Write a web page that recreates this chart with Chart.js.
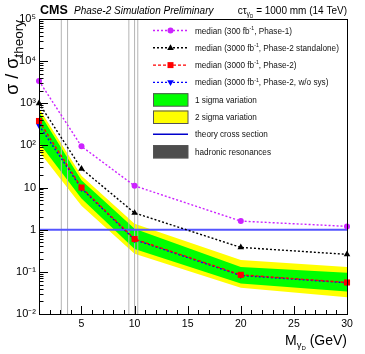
<!DOCTYPE html>
<html lang="en">
<head>
<meta charset="UTF-8" />
<title>Dark photon sensitivity</title>
<script src="https://cdn.jsdelivr.net/npm/chart.js"></script>
<style>
  body { margin: 0; background: #fff; }
</style>
</head>
<body>
<canvas id="limitChart" width="365" height="354"></canvas>
<script>
// values
const masses = [1, 5, 10, 20, 30];
const medianPhase1 = [3400, 95, 11, 1.6, 1.2];
const medianStandalone = [1000, 28, 2.5, 0.38, 0.26];
const medianPhase2 = [380, 10, 0.6, 0.085, 0.056];
const medianNoSys = [300, 9.5, 0.58, 0.082, 0.055];
const oneSigmaUp = [610, 15, 1.05, 0.13, 0.095];
const oneSigmaDown = [115, 5.5, 0.35, 0.053, 0.034];
const twoSigmaUp = [760, 19, 1.38, 0.19, 0.13];
const twoSigmaDown = [72, 3.7, 0.27, 0.042, 0.025];
const theoryMass = [1, 30];
const theoryRatio = [1, 1];
const resonanceMasses = [3.1, 3.69, 9.46, 10.0, 10.3];

const xTicks = [5, 10, 15, 20, 25, 30];
const yTicks = [0.01, 0.1, 1, 10, 100, 1000, 10000, 100000];
const yTickLabels = ['10\u207B\u00B2', '10\u207B\u00B9', '1', '10', '10\u00B2', '10\u00B3', '10\u2074', '10\u2075'];

const FONT = "'Liberation Sans', Arial, sans-serif";
const MAGENTA = '#cc22ff';
const BLUE_THEORY = '#5555ff';

function pts(xs, ys) {
  return xs.map((x, i) => ({ x: x, y: ys[i] }));
}

// draws text made of pieces with their own size / vertical shift
function drawRich(ctx, x, y, parts, align) {
  let w = 0;
  parts.forEach(p => {
    ctx.font = (p[3] || '') + ' ' + p[1] + 'px ' + FONT;
    w += ctx.measureText(p[0]).width;
  });
  let cx = align === 'right' ? x - w : x;
  parts.forEach(p => {
    ctx.font = (p[3] || '') + ' ' + p[1] + 'px ' + FONT;
    ctx.fillText(p[0], cx, y + p[2]);
    cx += ctx.measureText(p[0]).width;
  });
}

function marker(ctx, style, x, y, color) {
  ctx.fillStyle = color;
  ctx.beginPath();
  if (style === 'circle') {
    ctx.arc(x, y, 3, 0, Math.PI * 2);
  } else if (style === 'rect') {
    ctx.rect(x - 3, y - 3, 6, 6);
  } else if (style === 'up') {
    ctx.moveTo(x, y - 3.5); ctx.lineTo(x + 3.3, y + 2.2); ctx.lineTo(x - 3.3, y + 2.2);
  } else {
    ctx.moveTo(x, y + 3.5); ctx.lineTo(x + 3.3, y - 2.2); ctx.lineTo(x - 3.3, y - 2.2);
  }
  ctx.closePath();
  ctx.fill();
}

const legendItems = [
  { kind: 'line', color: MAGENTA, dash: [2, 2], pt: 'circle', text: ['median (300 fb', '-1', ', Phase-1)'] },
  { kind: 'line', color: '#000', dash: [2, 2], pt: 'up', text: ['median (3000 fb', '-1', ', Phase-2 standalone)'] },
  { kind: 'line', color: '#ff0000', dash: [3, 2], pt: 'rect', text: ['median (3000 fb', '-1', ', Phase-2)'] },
  { kind: 'line', color: '#0000ff', dash: [2, 2], pt: 'down', text: ['median (3000 fb', '-1', ', Phase-2, w/o sys)'] },
  { kind: 'box', color: '#00ff00', text: ['1 sigma variation'] },
  { kind: 'box', color: '#ffff00', text: ['2 sigma variation'] },
  { kind: 'theory', color: '#0000cc', text: ['theory cross section'] },
  { kind: 'box', color: '#4d4d4d', text: ['hadronic resonances'] }
];

const cmsDecor = {
  id: 'cmsDecor',
  afterDraw(chart) {
    const ctx = chart.ctx;
    const a = chart.chartArea;
    const xs = chart.scales.x, ys = chart.scales.y;
    ctx.save();
    ctx.strokeStyle = '#000';
    ctx.lineWidth = 1;
    ctx.setLineDash([]);

    // inward ticks
    ctx.beginPath();
    for (let m = 1; m <= 30; m++) {
      const px = Math.round(xs.getPixelForValue(m)) + 0.5;
      const len = m % 5 === 0 ? 8 : 4;
      ctx.moveTo(px, a.bottom); ctx.lineTo(px, a.bottom - len);
    }
    for (let d = -2; d <= 4; d++) {
      for (let k = 1; k <= 9; k++) {
        const py = Math.round(ys.getPixelForValue(k * Math.pow(10, d))) + 0.5;
        const len = k === 1 ? 9 : 4.5;
        ctx.moveTo(a.left, py); ctx.lineTo(a.left + len, py);
      }
    }
    const topY = Math.round(ys.getPixelForValue(1e5)) + 0.5;
    ctx.moveTo(a.left, topY); ctx.lineTo(a.left + 9, topY);
    ctx.stroke();

    // frame
    ctx.strokeRect(Math.round(a.left) + 0.5, Math.round(a.top) + 0.5,
      Math.round(a.right - a.left), Math.round(a.bottom - a.top));

    // legend
    ctx.textBaseline = 'alphabetic';
    legendItems.forEach((it, i) => {
      const y = 30.5 + i * 17.3;
      if (it.kind === 'line') {
        ctx.strokeStyle = it.color;
        ctx.lineWidth = 1.4;
        ctx.setLineDash(it.dash);
        ctx.beginPath(); ctx.moveTo(153, y); ctx.lineTo(188, y); ctx.stroke();
        ctx.setLineDash([]);
        marker(ctx, it.pt, 170.5, y, it.color);
      } else if (it.kind === 'box') {
        ctx.fillStyle = it.color;
        ctx.fillRect(153, y - 6.5, 35, 13);
        ctx.strokeStyle = '#555';
        ctx.lineWidth = 1;
        ctx.strokeRect(153.5, y - 6, 34.5, 12.5);
      } else {
        ctx.strokeStyle = it.color;
        ctx.lineWidth = 1.5;
        ctx.beginPath(); ctx.moveTo(153, y); ctx.lineTo(188, y); ctx.stroke();
      }
      ctx.fillStyle = '#111';
      if (it.text.length === 3) {
        drawRich(ctx, 195, y + 3, [[it.text[0], 8.2, 0], [it.text[1], 5.2, -3.8], [it.text[2], 8.2, 0]]);
      } else {
        drawRich(ctx, 195, y + 3, [[it.text[0], 8.2, 0]]);
      }
    });

    // header
    ctx.fillStyle = '#000';
    drawRich(ctx, 40, 13.5, [['CMS', 12.5, 0, 'bold']]);
    drawRich(ctx, 74, 13.5, [['Phase-2 Simulation Preliminary', 10, 0, 'italic']]);
    drawRich(ctx, 347, 13.5, [['c\u03C4', 10, 0], ['\u03B3', 7, 2.5], ['D', 4.5, 4], [' = 1000 mm (14 TeV)', 10, 0]], 'right');

    // axis titles
    drawRich(ctx, 347, 345, [['M', 14, 0], ['\u03B3', 9.5, 3], ['D', 6, 5], [' (GeV)', 14, 0]], 'right');
    ctx.translate(18, 20);
    ctx.rotate(-Math.PI / 2);
    drawRich(ctx, 0, 0, [['\u03C3 / \u03C3', 18, 0], ['theory', 13.5, 4.5]], 'right');
    ctx.restore();
  }
};

function lineSet(ys, color, dash, style, rotation, radius, order) {
  return {
    data: pts(masses, ys),
    borderColor: color,
    backgroundColor: color,
    borderWidth: 1.4,
    borderDash: dash,
    pointStyle: style,
    pointRotation: rotation,
    pointRadius: radius,
    pointBorderWidth: 0,
    pointBackgroundColor: color,
    tension: 0,
    fill: false,
    clip: false,
    order: order
  };
}

function edgeSet(ys, fillColor, fill, order) {
  return {
    data: pts(masses, ys),
    borderColor: 'rgba(0,0,0,0)',
    borderWidth: 0,
    backgroundColor: fillColor,
    pointRadius: 0,
    fill: fill,
    tension: 0,
    order: order
  };
}

const datasets = [
  edgeSet(twoSigmaUp, '#ffff00', '+1', 9),
  edgeSet(twoSigmaDown, 'rgba(0,0,0,0)', false, 9),
  edgeSet(oneSigmaUp, '#00ff00', '+1', 8),
  edgeSet(oneSigmaDown, 'rgba(0,0,0,0)', false, 8),
  lineSet(medianPhase1, MAGENTA, [2, 2], 'circle', 0, 3, 4),
  lineSet(medianStandalone, '#000000', [2, 2], 'triangle', 0, 3.8, 3),
  lineSet(medianNoSys, '#0000ff', [2, 2], 'triangle', 180, 3.6, 2),
  lineSet(medianPhase2, '#ff0000', [3, 2], 'rect', 0, 4.3, 1),
  {
    data: pts(theoryMass, theoryRatio),
    borderColor: BLUE_THEORY,
    borderWidth: 2,
    pointRadius: 0,
    fill: false,
    order: 5
  }
];

resonanceMasses.forEach(m => {
  datasets.push({
    data: [{ x: m, y: yTicks[0] }, { x: m, y: yTicks[yTicks.length - 1] }],
    borderColor: '#b4b4b4',
    borderWidth: 1,
    pointRadius: 0,
    fill: false,
    order: 6
  });
});

new Chart(document.getElementById('limitChart'), {
  type: 'line',
  data: { datasets: datasets },
  options: {
    responsive: false,
    animation: false,
    devicePixelRatio: 1,
    layout: { padding: { top: 19, right: 18, left: 0, bottom: 0 } },
    plugins: { legend: { display: false }, tooltip: { enabled: false } },
    scales: {
      x: {
        type: 'linear',
        min: 1,
        max: 30,
        afterBuildTicks: s => { s.ticks = xTicks.map(v => ({ value: v })); },
        afterFit: s => { s.height = 40; },
        grid: { display: false, drawTicks: false },
        border: { display: false },
        ticks: {
          color: '#000',
          font: { family: FONT, size: 10.5 },
          padding: 4,
          maxRotation: 0,
          autoSkip: false
        }
      },
      y: {
        type: 'logarithmic',
        min: yTicks[0],
        max: yTicks[yTicks.length - 1],
        afterBuildTicks: s => { s.ticks = yTicks.map(v => ({ value: v })); },
        afterFit: s => { s.width = 39; },
        grid: { display: false, drawTicks: false },
        border: { display: false },
        ticks: {
          color: '#000',
          font: { family: FONT, size: 11 },
          padding: 3,
          autoSkip: false,
          callback: (v, i) => yTickLabels[i]
        }
      }
    }
  },
  plugins: [cmsDecor]
});
</script>
</body>
</html>
